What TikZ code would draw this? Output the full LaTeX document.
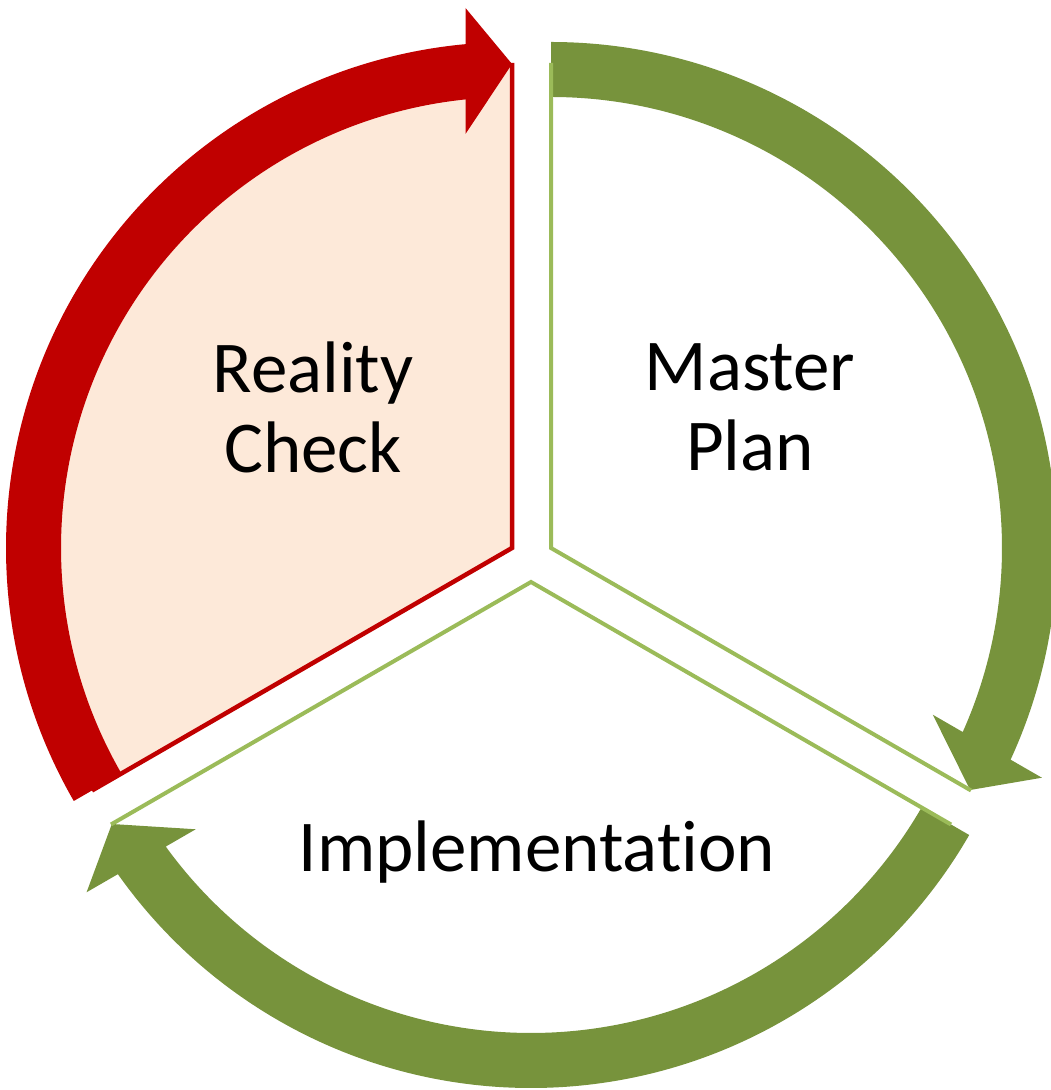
\documentclass[tikz,border=0pt]{standalone}
\usepackage{fontspec}
\setmainfont{Carlito}[Ligatures={NoCommon}, Contextuals={NoAlternate}]
\usetikzlibrary{calc}
\definecolor{rcred}{HTML}{C00000}
\definecolor{rcpale}{HTML}{FDE9D9}
\definecolor{bandgreen}{HTML}{77933C}
\definecolor{edgegreen}{HTML}{9BBB59}

% circular arrow: #1 centre, #2 tail angle, #3 tip angle, #4 colour
\newcommand{\cyclearrow}[4]{%
  \pgfmathsetmacro{\headback}{#3+90}
  \pgfmathsetmacro{\outend}{#3+5.27}
  \pgfmathsetmacro{\inend}{#3+5.92}
  \fill[#4] ($(#1)+(#2:506)$) arc[start angle=#2, end angle=\outend, radius=506]
    -- ($(#1)+(#3:540)+(\headback:46.5)$) -- ($(#1)+(#3:484)$)
    -- ($(#1)+(#3:414)+(\headback:46.5)$)
    -- ($(#1)+(\inend:451)$) arc[start angle=\inend, end angle=#2, radius=451] -- cycle;
}

\begin{document}
\begin{tikzpicture}[x=1pt,y=1pt,
    label/.style={font=\fontsize{73}{80}\selectfont, align=center, inner sep=0pt},
    rcedge/.style={draw=rcred, line width=4.5pt},
    greenedge/.style={draw=edgegreen, line width=4pt}]
  \useasboundingbox (0,0) rectangle (1051,1090);
  \coordinate (rc) at (512,542);
  \coordinate (mp) at (551,542);
  \coordinate (im) at (531,508);

  % sectors
  \fill[rcpale] (rc) -- ($(rc)+(90:485)$) arc[start angle=90, end angle=210, radius=485] -- cycle;

  % arrows round the cycle
  \cyclearrow{rc}{210}{90}{rcred}
  \cyclearrow{mp}{90}{-30}{bandgreen}
  \cyclearrow{im}{-30}{-150}{bandgreen}

  % sector edges
  \draw[rcedge] ($(rc)+(90:485)$) -- (rc) -- ($(rc)+(210:485)$);
  \draw[greenedge] ($(mp)+(90:485)$) -- (mp) -- ($(mp)+(-30:485)$);
  \draw[greenedge] ($(im)+(-30:485)$) -- (im) -- ($(im)+(210:485)$);

  \node[label] (reality) at (313,683) {Reality\\Check};
  \node[label] (master) at (750,683) {Master\\Plan};
  \node[label, anchor=base] (implementation) at (537,218) {Implementation};
\end{tikzpicture}
\end{document}
